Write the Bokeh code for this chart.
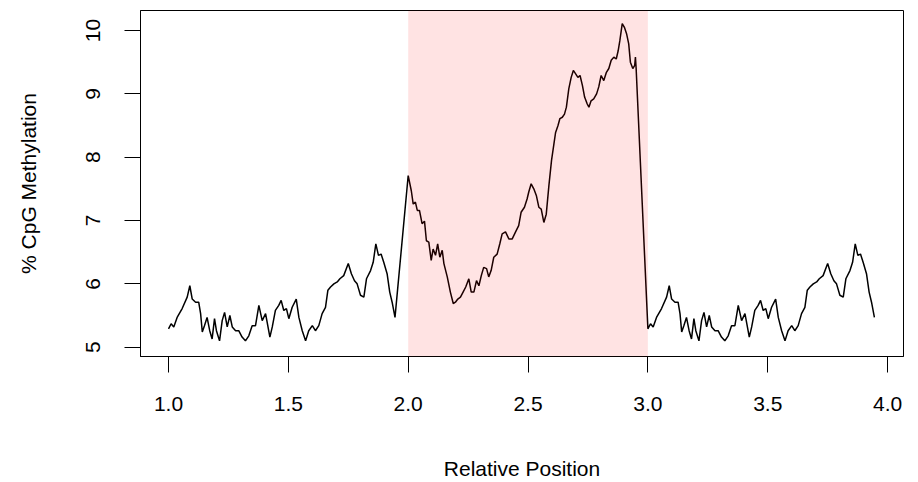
from bokeh.plotting import figure
from bokeh.models import Range1d, BoxAnnotation, FixedTicker, PrintfTickFormatter
from bokeh.embed import file_html
from bokeh.resources import INLINE

# Flanking profile (relative offset within unit, % methylation) - used for both flanks
flank_pos = [0.000, 0.011, 0.022, 0.036, 0.057, 0.078, 0.089, 0.099, 0.113, 0.126,
             0.134, 0.141, 0.150, 0.161, 0.172, 0.182, 0.192, 0.200, 0.213, 0.224,
             0.234, 0.245, 0.256, 0.266, 0.280, 0.293, 0.307, 0.321, 0.335, 0.349,
             0.363, 0.377, 0.391, 0.405, 0.423, 0.433, 0.446, 0.460, 0.470, 0.481,
             0.492, 0.502, 0.516, 0.533, 0.544, 0.558, 0.572, 0.585, 0.600, 0.613,
             0.627, 0.641, 0.655, 0.665, 0.676, 0.690, 0.704, 0.715, 0.731, 0.750,
             0.763, 0.776, 0.787, 0.801, 0.815, 0.826, 0.843, 0.854, 0.865, 0.876,
             0.887, 0.898, 0.912, 0.923, 0.933, 0.945]
flank_val = [5.29, 5.37, 5.32, 5.47, 5.61, 5.79, 5.97, 5.76, 5.71, 5.71,
             5.53, 5.24, 5.34, 5.47, 5.26, 5.13, 5.45, 5.26, 5.10, 5.42,
             5.55, 5.32, 5.50, 5.32, 5.26, 5.26, 5.16, 5.10, 5.18, 5.34,
             5.34, 5.66, 5.42, 5.53, 5.16, 5.32, 5.58, 5.66, 5.74, 5.58,
             5.61, 5.45, 5.63, 5.76, 5.47, 5.26, 5.10, 5.26, 5.34, 5.26,
             5.34, 5.53, 5.63, 5.90, 5.95, 6.00, 6.03, 6.08, 6.13, 6.32,
             6.16, 6.05, 6.00, 5.82, 5.79, 6.08, 6.21, 6.34, 6.63, 6.45,
             6.47, 6.34, 6.16, 5.87, 5.71, 5.47]

# Central region profile
center_pos = [0.000, 0.013, 0.021, 0.030, 0.038, 0.047, 0.058, 0.068, 0.076, 0.086,
              0.096, 0.104, 0.114, 0.123, 0.132, 0.142, 0.149, 0.163, 0.176, 0.188,
              0.197, 0.207, 0.218, 0.229, 0.240, 0.253, 0.263, 0.274, 0.285, 0.295,
              0.305, 0.315, 0.327, 0.336, 0.346, 0.357, 0.371, 0.382, 0.392, 0.406,
              0.420, 0.434, 0.448, 0.461, 0.471, 0.485, 0.496, 0.503, 0.513, 0.524,
              0.535, 0.545, 0.555, 0.566, 0.576, 0.587, 0.598, 0.608, 0.615, 0.625,
              0.633, 0.643, 0.652, 0.660, 0.670, 0.680, 0.689, 0.698, 0.708, 0.717,
              0.727, 0.736, 0.747, 0.754, 0.763, 0.774, 0.786, 0.795, 0.805, 0.816,
              0.827, 0.837, 0.847, 0.858, 0.868, 0.876, 0.883, 0.893, 0.902, 0.911,
              0.920, 0.927, 0.937, 0.945, 0.948, 0.951]
center_val = [7.71, 7.47, 7.26, 7.29, 7.16, 7.16, 6.95, 6.99, 6.68, 6.66,
              6.37, 6.55, 6.45, 6.63, 6.42, 6.53, 6.32, 6.11, 5.87, 5.69,
              5.71, 5.76, 5.79, 5.87, 5.95, 6.08, 5.87, 5.87, 6.05, 5.97,
              6.13, 6.26, 6.24, 6.11, 6.21, 6.42, 6.47, 6.63, 6.79, 6.82,
              6.71, 6.71, 6.82, 6.92, 7.13, 7.21, 7.34, 7.45, 7.58, 7.50,
              7.39, 7.21, 7.18, 6.97, 7.10, 7.55, 7.95, 8.21, 8.39, 8.50,
              8.61, 8.63, 8.68, 8.79, 9.08, 9.26, 9.37, 9.32, 9.26, 9.29,
              9.13, 8.95, 8.84, 8.79, 8.89, 8.92, 9.00, 9.11, 9.29, 9.21,
              9.34, 9.40, 9.53, 9.58, 9.55, 9.68, 9.84, 10.11, 10.05, 9.95,
              9.79, 9.50, 9.40, 9.45, 9.58, 9.40]

segment_starts = [1.0, 2.0, 3.0]
region_start, region_end = 2.0, 3.0
x_ticks = [1.0, 1.5, 2.0, 2.5, 3.0, 3.5, 4.0]
y_ticks = [5, 6, 7, 8, 9, 10]

xs = ([segment_starts[0] + p for p in flank_pos]
      + [segment_starts[1] + p for p in center_pos]
      + [segment_starts[2] + p for p in flank_pos])
ys = flank_val + center_val + flank_val

FONT = "Liberation Sans"

p = figure(width=918, height=482, output_backend="svg", toolbar_location=None,
           x_range=Range1d(0.8832, 4.0664), y_range=Range1d(4.853, 10.316),
           min_border_left=140, min_border_right=15, min_border_top=10, min_border_bottom=126)
p.background_fill_color = "white"
p.border_fill_color = "white"
p.outline_line_color = "black"
p.outline_line_width = 1
p.grid.visible = False

p.line(xs, ys, line_color="black", line_width=1.5)

p.add_layout(BoxAnnotation(left=region_start, right=region_end, fill_color="red",
                           fill_alpha=0.11, line_color=None))

for ax in (p.xaxis[0], p.yaxis[0]):
    ax.axis_line_color = "black"
    ax.major_tick_line_color = "black"
    ax.major_tick_out = 16
    ax.major_tick_in = 0
    ax.minor_tick_line_color = None
    ax.major_label_text_font = FONT
    ax.major_label_text_font_size = "21px"
    ax.major_label_text_color = "black"
    ax.axis_label_text_font = FONT
    ax.axis_label_text_font_size = "21px"
    ax.axis_label_text_font_style = "normal"
    ax.axis_label_text_color = "black"
    ax.major_label_standoff = 24

p.xaxis.ticker = FixedTicker(ticks=x_ticks)
p.xaxis.formatter = PrintfTickFormatter(format="%.1f")
p.yaxis.ticker = FixedTicker(ticks=y_ticks)
p.yaxis.formatter = PrintfTickFormatter(format="%d")
p.yaxis.major_label_orientation = "vertical"
p.xaxis.axis_label = "Relative Position"
p.yaxis.axis_label = "% CpG Methylation"
p.xaxis.axis_label_standoff = 43
p.yaxis.axis_label_standoff = 44

open("out.html", "w").write(file_html(p, INLINE))
